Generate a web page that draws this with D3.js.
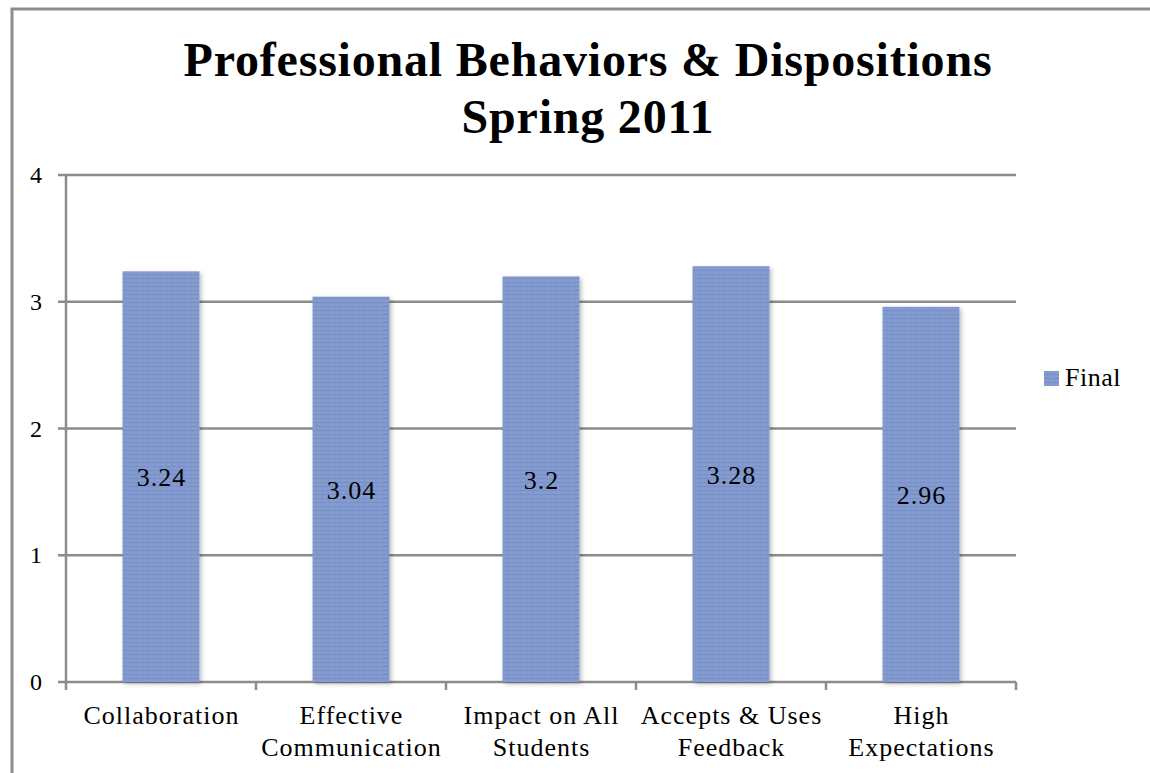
<!DOCTYPE html>
<html><head><meta charset="utf-8">
<script src="https://cdn.jsdelivr.net/npm/d3@7"></script>
<style>body{margin:0;background:#fff;} svg{display:block;}</style>
</head><body>
<script>
const categories = [["Collaboration"],["Effective","Communication"],["Impact on All","Students"],["Accepts & Uses","Feedback"],["High","Expectations"]];
const values = [3.24, 3.04, 3.2, 3.28, 2.96];
const yTicks = [0,1,2,3,4];
const seriesName = "Final";
const titleLines = ["Professional Behaviors & Dispositions","Spring 2011"];

const W=1150,H=773;
const svg=d3.select("body").append("svg").attr("width",W).attr("height",H);
const font="'Liberation Serif','Times New Roman',serif";

const defs=svg.append("defs");
const pat=defs.append("pattern").attr("id","tex").attr("patternUnits","userSpaceOnUse").attr("width",6).attr("height",4);
pat.append("rect").attr("width",6).attr("height",4).attr("fill","#8199cf");
pat.append("rect").attr("y",2).attr("width",6).attr("height",1).attr("fill","#768ec6").attr("opacity",0.8);
pat.append("rect").attr("x",0).attr("y",0).attr("width",3).attr("height",1).attr("fill","#8ea4d4").attr("opacity",0.6);
const f=defs.append("filter").attr("id","sh").attr("x","-20%").attr("y","-5%").attr("width","140%").attr("height","110%");
f.append("feDropShadow").attr("dx",2).attr("dy",2).attr("stdDeviation",2).attr("flood-color","#000").attr("flood-opacity",0.25);

// outer frame
svg.append("rect").attr("x",12).attr("y",9).attr("width",W).attr("height",H).attr("fill","none").attr("stroke","#8c8c8c").attr("stroke-width",3);

const x0=66,x1=1016,yTop=175,yBot=682;
const x=d3.scaleBand().domain(d3.range(categories.length)).range([x0,x1]).paddingInner(0.595).paddingOuter(0.2975);
const xb=d3.scaleBand().domain(d3.range(categories.length)).range([x0,x1]);
const y=d3.scaleLinear().domain([0,4]).range([yBot,yTop]);

// gridlines
svg.append("g").selectAll("line").data(yTicks).join("line")
 .attr("x1",x0-8).attr("x2",x1).attr("y1",d=>y(d)).attr("y2",d=>y(d))
 .attr("stroke","#8c8c8c").attr("stroke-width",2.5);
// y axis line
svg.append("line").attr("x1",x0).attr("x2",x0).attr("y1",yTop).attr("y2",yBot).attr("stroke","#8c8c8c").attr("stroke-width",2.5);
// x ticks
const xt=d3.range(categories.length+1).map(i=>i===categories.length?x1:xb(i));
svg.append("g").selectAll("line").data(xt).join("line")
 .attr("x1",d=>d).attr("x2",d=>d).attr("y1",yBot).attr("y2",yBot+8).attr("stroke","#8c8c8c").attr("stroke-width",2.5);

// y labels
svg.append("g").selectAll("text").data(yTicks).join("text")
 .attr("x",36).attr("y",d=>y(d)+8).attr("text-anchor","middle")
 .attr("font-family",font).attr("font-size",24).text(d=>d);

// bars
svg.append("g").selectAll("rect").data(values).join("rect")
 .attr("x",(d,i)=>x(i)).attr("width",x.bandwidth())
 .attr("y",d=>y(d)).attr("height",d=>yBot-y(d))
 .attr("fill","url(#tex)").attr("filter","url(#sh)");
// value labels
svg.append("g").selectAll("text").data(values).join("text")
 .attr("x",(d,i)=>x(i)+x.bandwidth()/2+0.5).attr("y",d=>(y(d)+yBot)/2+9.5)
 .attr("text-anchor","middle").attr("font-family",font).attr("font-size",26).attr("letter-spacing",1).text(d=>d);

// category labels
const cg=svg.append("g").selectAll("text").data(categories).join("text")
 .attr("text-anchor","middle").attr("font-family",font).attr("font-size",26).attr("letter-spacing",1)
 .attr("x",(d,i)=>xb(i)+xb.bandwidth()/2+0.5).attr("y",724);
cg.selectAll("tspan").data(d=>d).join("tspan")
 .attr("x",function(){return this.parentNode.getAttribute("x");})
 .attr("dy",(d,i)=>i===0?0:32).text(d=>d);

// title
svg.append("g").selectAll("text").data(titleLines).join("text")
 .attr("x",588).attr("y",(d,i)=>76+i*57).attr("text-anchor","middle")
 .attr("font-family",font).attr("font-weight","bold").attr("font-size",48).attr("letter-spacing",0.8).text(d=>d);

// legend
svg.append("rect").attr("x",1044).attr("y",371).attr("width",15).attr("height",15).attr("fill","url(#tex)");
svg.append("text").attr("x",1065).attr("y",386).attr("font-family",font).attr("font-size",26).attr("letter-spacing",0.5).text(seriesName);
</script>
</body></html>
